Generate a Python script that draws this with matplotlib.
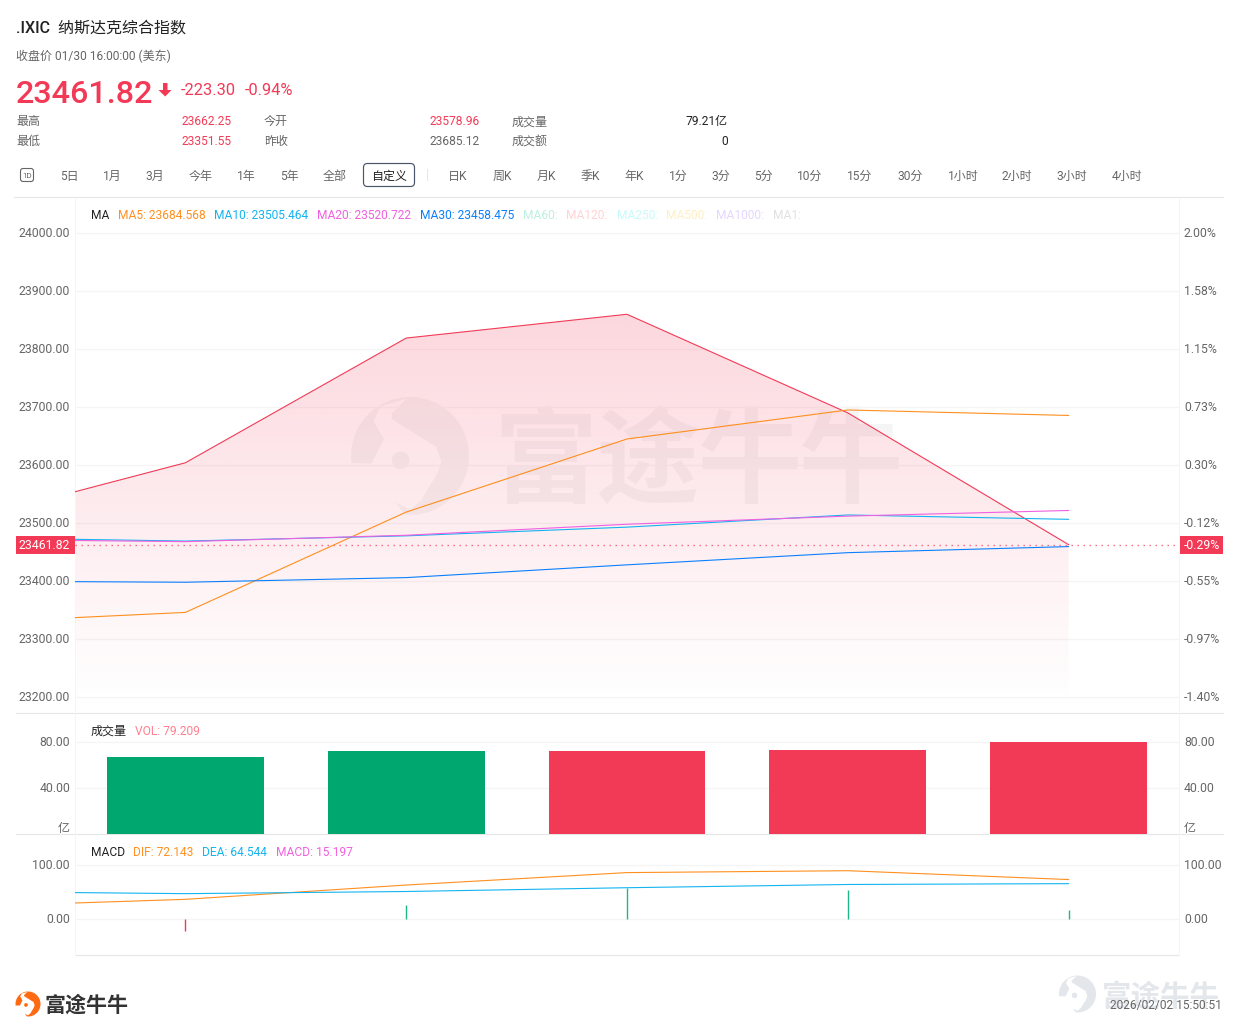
import numpy as np
import matplotlib
matplotlib.use('Agg')
import matplotlib.pyplot as plt
from matplotlib.patches import Polygon, Circle, FancyBboxPatch, Rectangle
from matplotlib.colors import to_rgb
from matplotlib.transforms import ScaledTranslation

plt.rcParams['font.family'] = ['Roboto', 'Noto Sans CJK SC', 'DejaVu Sans']

# datos de las velas: x=-0.5 es el borde izquierdo del panel
posiciones = [-0.5, 0, 1, 2, 3, 4]
cierre = [23553, 23603, 23818, 23859, 23689, 23461.82]
ma5 = [23336, 23345, 23518, 23644, 23694, 23684.568]
ma10 = [23471, 23468, 23477, 23492, 23513, 23505.464]
ma20 = [23469, 23467, 23478, 23497, 23511, 23520.722]
ma30 = [23398, 23397, 23405, 23427, 23448, 23458.475]

volumen_x = [0, 1, 2, 3, 4]
volumen = [66.5, 71.7, 71.7, 72.6, 79.209]
volumen_sube = [False, False, True, True, True]

dif = [28.7, 35.5, 62, 85, 88.5, 72.143]
dea = [48, 46, 50, 57, 63, 64.544]
macd = [-22.6, 25, 57, 53, 15.197]

precio_ticks = [24000, 23900, 23800, 23700, 23600, 23500, 23400, 23300, 23200]
pct_labels = ['2.00%', '1.58%', '1.15%', '0.73%', '0.30%', '-0.12%', '-0.55%', '-0.97%', '-1.40%']
ultimo = 23461.82
ultimo_pct = '-0.29%'

periodos = ['5日', '1月', '3月', '今年', '1年', '5年', '全部', '自定义', '日K', '周K', '月K', '季K', '年K',
            '1分', '3分', '5分', '10分', '15分', '30分', '1小时', '2小时', '3小时', '4小时']
periodos_x = [69, 112, 155, 201, 246, 289, 335, 389, 458, 502, 546, 590, 634,
              678, 721, 763, 810, 860, 910, 963, 1017, 1072, 1127]

ma_textos = ['MA', 'MA5: 23684.568', 'MA10: 23505.464', 'MA20: 23520.722', 'MA30: 23458.475',
             'MA60:', 'MA120:', 'MA250:', 'MA500:', 'MA1000:', 'MA1:']
ma_x = [91, 118, 214, 317, 420, 523, 566, 617, 666, 716, 773]
ma_colores = ['#222222', '#FF8F1F', '#14B4F0', '#F060E0', '#0A80FF', '#BDEFE0', '#FFD3D6',
              '#C8FAFA', '#FFEFC8', '#E4D6FF', '#E0E0E0']

ROJO = '#F23A57'
VERDE = '#00A870'
GRIS = '#666666'
NEGRO = '#222222'
LINEA = '#E6E6E6'
GRID = '#F5F5F5'
ANCHO = 1239
ALTO = 1031
PX = 12  # tamano base de letra en pixeles
FS_EJE = 12.2 * 0.72


def crear_panel(fig, x0, y0, x1, y1):
    ax = fig.add_axes([x0 / ANCHO, 1 - y1 / ALTO, (x1 - x0) / ANCHO, (y1 - y0) / ALTO])
    ax.patch.set_alpha(0)
    ax.set_zorder(1)
    ax.set_xlim(-0.5, 4.5)
    ax.set_xticks([])
    for lado in ax.spines:
        ax.spines[lado].set_visible(False)
    ax.spines['left'].set_visible(True)
    ax.spines['left'].set_color(GRID)
    ax.spines['left'].set_linewidth(0.72)
    ax.spines['right'].set_visible(True)
    ax.spines['right'].set_color(GRID)
    ax.spines['right'].set_linewidth(0.72)
    ax.tick_params(axis='y', length=0, labelsize=FS_EJE, labelcolor=GRIS, pad=3.6)
    ax.grid(axis='y', color=GRID, linewidth=0.9)
    ax.set_axisbelow(True)
    return ax


def subir_labels(fig, ax):
    # ajuste fino de medio pixel en las etiquetas de los ejes
    for etiqueta in ax.get_yticklabels():
        etiqueta.set_transform(etiqueta.get_transform() + ScaledTranslation(0, 0.5 / 100, fig.dpi_scale_trans))


def eje_derecho(ax, ticks, labels):
    der = ax.twinx()
    der.set_zorder(1)
    der.set_ylim(ax.get_ylim())
    der.set_yticks(ticks)
    der.set_yticklabels(labels)
    der.set_xticks([])
    der.tick_params(axis='y', length=0, labelsize=FS_EJE, labelcolor=GRIS, pad=3.6)
    for lado in der.spines:
        der.spines[lado].set_visible(False)
    subir_labels(ax.figure, ax)
    subir_labels(ax.figure, der)
    return der


def dibujar_logo(ax, cx, cy, r, color, alpha=1.0, zorder=1):
    # el logo son dos piezas y un punto, coordenadas unitarias con y hacia arriba
    ang1 = np.radians(np.linspace(93, 187, 30))
    pieza1 = list(zip(np.cos(ang1), np.sin(ang1)))
    pieza1 += [(-0.65, -0.125), (-0.44, 0.29), (-0.62, 0.59), (-0.5, 0.84), (-0.06, 0.97)]
    ang2 = np.radians(np.linspace(93, -95, 50))
    pieza2 = list(zip(np.cos(ang2), np.sin(ang2)))
    pieza2 += [(-0.25, -0.78), (0.0, -0.91), (0.19, -0.75), (0.47, -0.28), (0.53, -0.09),
               (0.44, 0.16), (-0.31, 0.625), (-0.31, 0.72), (-0.06, 0.97)]
    for pieza in [pieza1, pieza2]:
        puntos = [(cx + u * r, cy - v * r) for u, v in pieza]
        ax.add_patch(Polygon(puntos, closed=True, facecolor=color, edgecolor='none', alpha=alpha, zorder=zorder))
    ax.add_patch(Circle((cx - 0.16 * r, cy + 0.075 * r), 0.15 * r, facecolor=color, edgecolor='none',
                        alpha=alpha, zorder=zorder))


def dibujar_pagina(fig):
    # capa de fondo en pixeles para los textos de cabecera y separadores
    pag = fig.add_axes([0, 0, 1, 1])
    pag.set_xlim(0, ANCHO)
    pag.set_ylim(ALTO, 0)
    pag.axis('off')
    pag.set_zorder(0)

    def txt(x, y, s, color=GRIS, px=PX, ha='left', weight='normal'):
        # y es el centro de las cifras, se pasa a linea base para no depender del alto del texto
        pag.text(x, y + 0.36 * px, s, color=color, fontsize=px * 0.72, ha=ha, va='baseline', fontweight=weight)

    txt(16, 27, '.IXIC  纳斯达克综合指数', NEGRO, 16, weight='medium')
    txt(16, 55.5, '收盘价 01/30 16:00:00 (美东)')
    txt(16, 91, '23461.82', ROJO, 32.4, weight='medium')
    pag.add_patch(Polygon([(163, 83), (167.5, 83), (167.5, 90), (171.5, 90), (165.2, 96.5), (158.5, 90), (163, 90)],
                          closed=True, facecolor=ROJO, edgecolor='none'))
    txt(181, 89, '-223.30', ROJO, 16.4)
    txt(245, 89, '-0.94%', ROJO, 16.4)

    txt(16, 121, '最高')
    txt(181, 121, '23662.25', ROJO)
    txt(264, 121, '今开')
    txt(429, 121, '23578.96', ROJO)
    txt(512, 121, '成交量')
    txt(727.5, 121, '79.21亿', NEGRO, ha='right')
    txt(16, 141, '最低')
    txt(181, 141, '23351.55', ROJO)
    txt(264, 141, '昨收')
    txt(429, 141, '23685.12')
    txt(512, 141, '成交额')
    txt(727.5, 141, '0', NEGRO, ha='right')

    # barra de periodos
    pag.add_patch(FancyBboxPatch((20.5, 168.5), 13, 13, boxstyle='round,pad=0,rounding_size=2.5',
                                 facecolor='white', edgecolor='#666666', linewidth=0.8))
    txt(27, 175, '1D', GRIS, 8, ha='center')
    for nombre, x in zip(periodos, periodos_x):
        if nombre == '自定义':
            txt(x, 175.5, nombre, NEGRO, ha='center')
        else:
            txt(x, 175.5, nombre, GRIS, ha='center')
    pag.add_patch(FancyBboxPatch((363.5, 163.5), 51, 23, boxstyle='round,pad=0,rounding_size=4',
                                 facecolor='none', edgecolor='#4A5568', linewidth=0.85))
    pag.plot([427, 427], [169, 180], color=LINEA, linewidth=0.72)

    # separadores de paneles
    pag.plot([14, 1223], [197, 197], color=LINEA, linewidth=0.8)
    pag.plot([16, 1223], [713, 713], color=LINEA, linewidth=0.8)
    pag.plot([16, 1223], [834, 834], color=LINEA, linewidth=0.8)
    pag.plot([75, 1179], [955, 955], color=LINEA, linewidth=0.8)

    # leyendas de los paneles
    for s, x, color in zip(ma_textos, ma_x, ma_colores):
        txt(x, 214.5, s, color)
    txt(91, 730.5, '成交量', NEGRO)
    txt(135, 730.5, 'VOL: 79.209', '#FF7F90')
    txt(91, 851.5, 'MACD', NEGRO)
    txt(133, 851.5, 'DIF: 72.143', '#FF8F1F')
    txt(202, 851.5, 'DEA: 64.544', '#14B4F0')
    txt(276, 851.5, 'MACD: 15.197', '#F060E0')
    txt(70, 828, '亿', GRIS, ha='right')
    txt(1184, 828, '亿', GRIS)

    # etiquetas del ultimo precio
    pag.add_patch(Rectangle((16, 535.5), 59, 18, facecolor=ROJO, edgecolor='none'))
    txt(70, 544.5, f'{ultimo:.2f}', 'white', 12.2, ha='right')
    pag.add_patch(Rectangle((1179, 535.5), 44, 18, facecolor=ROJO, edgecolor='none'))
    txt(1184, 544.5, ultimo_pct, 'white', 12.2)

    # marca de agua central
    dibujar_logo(pag, 410, 456, 59, '#555555', alpha=0.055, zorder=1)
    for s, x in zip('富途牛牛', [545, 647, 749, 850]):
        pag.text(x, 455 + 0.38 * 104, s, color='#555555', alpha=0.055, fontsize=104 * 0.72, fontweight='bold',
                 ha='center', va='baseline', zorder=1)

    # pie con logos y hora
    dibujar_logo(pag, 28, 1004, 12.5, '#FF6A13', zorder=2)
    txt(44, 1004, '富途牛牛', '#333333', 21, weight='bold')
    dibujar_logo(pag, 1077.5, 994, 18.5, '#E3E7EB', zorder=1)
    txt(1102, 995, '富途牛牛', '#E3E7EB', 29.5, weight='bold')
    txt(1222, 1004.5, '2026/02/02 15:50:51', GRIS, ha='right')
    return pag


def dibujar_precio(fig):
    ax = crear_panel(fig, 75, 198, 1179, 713)
    escala = 0.58  # pixeles por punto
    ax.set_ylim(23200 - (713 - 696.5) / escala, 24000 + (232.5 - 198) / escala)
    ax.set_yticks(precio_ticks)
    ax.set_yticklabels([f'{v:.2f}' for v in precio_ticks])
    eje_derecho(ax, precio_ticks, pct_labels)

    # relleno con degradado bajo la linea de cierre
    base = 23205
    techo = max(cierre)
    grad = np.zeros((256, 2, 4))
    grad[:, :, :3] = to_rgb(ROJO)
    grad[:, :, 3] = np.linspace(0.20, 0.005, 256)[:, None]
    img = ax.imshow(grad, extent=(posiciones[0], posiciones[-1], base, techo), aspect='auto',
                    origin='upper', zorder=1, interpolation='bilinear')
    contorno = Polygon(list(zip(posiciones, cierre)) + [(posiciones[-1], base), (posiciones[0], base)],
                       closed=True, transform=ax.transData)
    img.set_clip_path(contorno)
    ax.set_xlim(-0.5, 4.5)
    ax.set_ylim(23200 - (713 - 696.5) / escala, 24000 + (232.5 - 198) / escala)

    ax.plot(posiciones, cierre, color=ROJO, linewidth=0.8, zorder=3)
    ax.plot(posiciones, ma5, color='#FF8F1F', linewidth=0.8, zorder=4)
    ax.plot(posiciones, ma10, color='#14B4F0', linewidth=0.8, zorder=4)
    ax.plot(posiciones, ma20, color='#F060E0', linewidth=0.8, zorder=4)
    ax.plot(posiciones, ma30, color='#0A80FF', linewidth=0.8, zorder=4)
    ax.axhline(ultimo, color='#F8607A', linewidth=1.0, linestyle=(0, (1, 3.32)), zorder=3)


def dibujar_volumen(fig):
    ax = crear_panel(fig, 75, 713, 1179, 834)
    ax.set_ylim(-0.4, 80 + (741.5 - 713) / 1.15)
    ax.set_yticks([80, 40])
    ax.set_yticklabels(['80.00', '40.00'])
    eje_derecho(ax, [80, 40], ['80.00', '40.00'])
    colores = [ROJO if s else VERDE for s in volumen_sube]
    ax.bar(volumen_x, volumen, width=0.711, color=colores, zorder=3)


def dibujar_macd(fig):
    ax = crear_panel(fig, 75, 834, 1179, 955)
    escala = 0.54
    ax.set_ylim(-(955 - 918.5) / escala, 100 + (864.5 - 834) / escala)
    ax.set_yticks([100, 0])
    ax.set_yticklabels(['100.00', '0.00'])
    eje_derecho(ax, [100, 0], ['100.00', '0.00'])
    ax.plot(posiciones, dif, color='#FF8F1F', linewidth=0.8, zorder=4)
    ax.plot(posiciones, dea, color='#14B4F0', linewidth=0.8, zorder=4)
    colores = [ROJO if v < 0 else '#1DB88A' for v in macd]
    ax.vlines(volumen_x, 0, macd, colors=colores, linewidth=1.0, zorder=3)


if __name__ == '__main__':
    fig = plt.figure(figsize=(ANCHO / 100, ALTO / 100), dpi=100)
    dibujar_pagina(fig)
    dibujar_precio(fig)
    dibujar_volumen(fig)
    dibujar_macd(fig)
    fig.savefig('out.png', dpi=100)
    plt.close('all')
